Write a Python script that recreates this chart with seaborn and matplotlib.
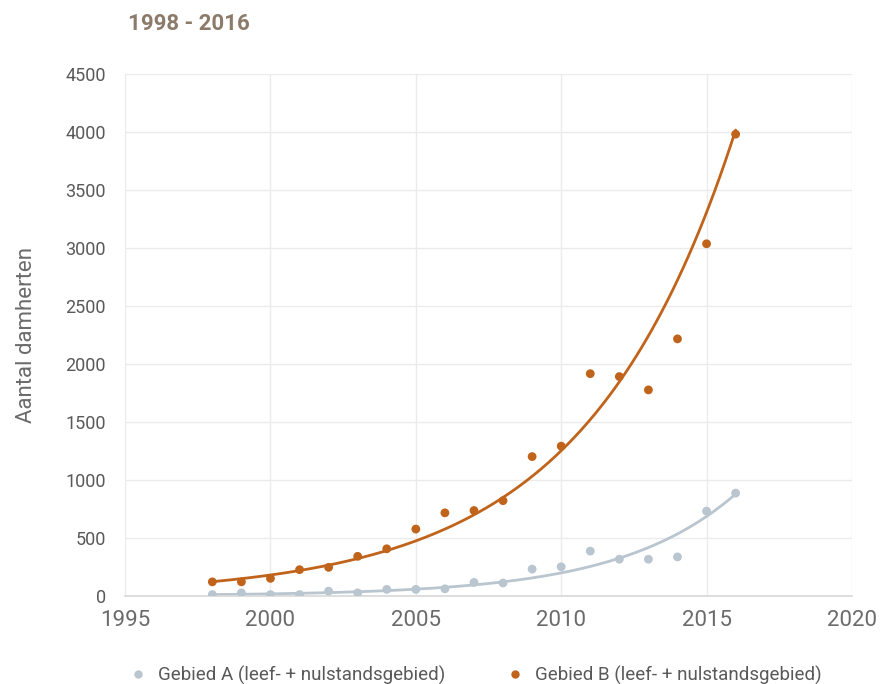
import matplotlib
matplotlib.use('Agg')
import matplotlib.pyplot as plt
import seaborn as sns
import pandas as pd
import numpy as np

years = list(range(1998, 2017))
gebied_a = [10, 25, 10, 10, 40, 25, 55, 55, 60, 115, 110, 230, 250, 385, 315, 315, 335, 730, 885]
gebied_b = [120, 120, 150, 225, 245, 340, 405, 575, 715, 735, 820, 1200, 1290, 1915, 1890, 1775, 2215, 3035, 3980]
labels = ['Gebied A (leef- + nulstandsgebied)', 'Gebied B (leef- + nulstandsgebied)']
colors = ['#b9c5cf', '#c0631b']

df = pd.DataFrame({'jaar': years * 2,
                   'aantal': gebied_a + gebied_b,
                   'gebied': [labels[0]] * len(years) + [labels[1]] * len(years)})

sns.set_theme(style='whitegrid')
plt.rcParams['font.family'] = ['Roboto', 'DejaVu Sans']

fig = plt.figure(figsize=(8.81, 6.84), dpi=100)
ax = fig.add_axes([0.142, 0.129, 0.825, 0.763])

# exponential trendlines (fit on log values, like Excel)
xs = np.linspace(1998, 2016, 200)
for lab, col in zip(labels, colors):
    sub = df[df.gebied == lab]
    b, a = np.polyfit(sub.jaar - 1998, np.log(sub.aantal), 1)
    ax.plot(xs, np.exp(a + b * (xs - 1998)), color=col, lw=2, zorder=2)

sns.scatterplot(data=df, x='jaar', y='aantal', hue='gebied', palette=colors,
                s=40, edgecolor='none', ax=ax, zorder=3, legend=False)

ax.set_xlim(1995, 2020)
ax.set_ylim(0, 4500)
ax.set_xticks(range(1995, 2021, 5))
ax.set_yticks(range(0, 4501, 500))
ax.grid(color='#ebebeb', lw=1)
for s in ax.spines.values():
    s.set_visible(False)
ax.spines['bottom'].set_visible(True)
ax.spines['bottom'].set_color('#d9d9d9')
ax.tick_params(axis='x', labelsize=16, colors='#6b6b6b', pad=10, length=0)
ax.tick_params(axis='y', labelsize=13, colors='#595959', pad=14, length=0)
ax.set_xlabel('')
ax.set_ylabel('Aantal damherten', fontsize=16, color='#6b6b6b', labelpad=20)

fig.text(0.145, 0.965, '1998 - 2016', fontsize=16, fontweight='bold', color='#8c7b6b', va='center')

handles = [plt.Line2D([], [], marker='o', ls='', color=c, markersize=5) for c in colors]
fig.legend(handles, labels, loc='center', bbox_to_anchor=(0.534, 0.013), ncol=2,
           frameon=False, fontsize=13.5, handletextpad=0.1, columnspacing=2.7,
           labelcolor='#595959')

fig.savefig('out.png', dpi=100)
